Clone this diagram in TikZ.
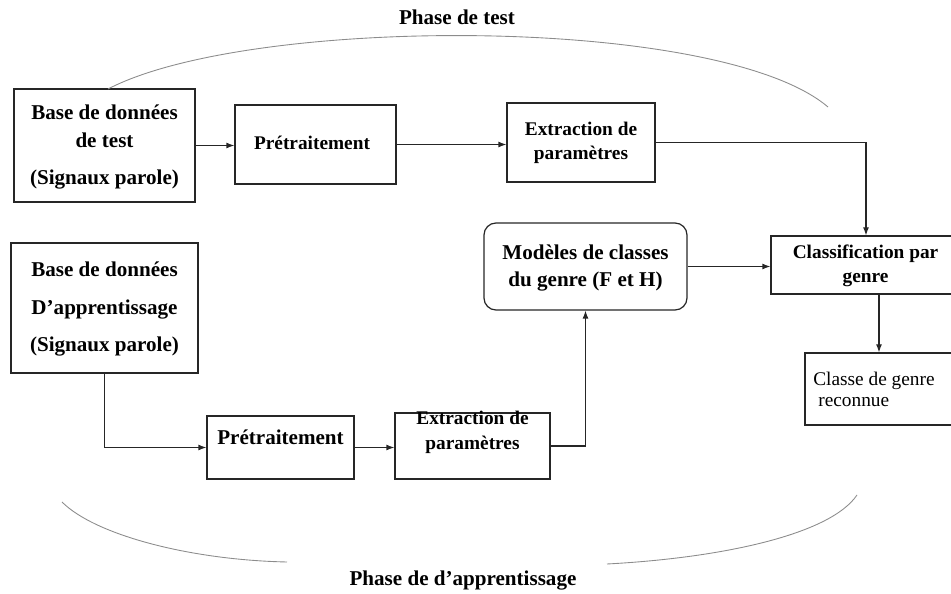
\documentclass[tikz,border=0pt]{standalone}
\usepackage{fontspec}
\setmainfont{Liberation Serif}
\usetikzlibrary{fit,arrows.meta}
\begin{document}
\begin{tikzpicture}[x=0.02cm,y=-0.02cm,
  box/.style={draw=black!85,line width=0.7pt,inner sep=0pt},
  rbox/.style={box,rounded corners=0.24cm},
  arr/.style={draw=black!85,line width=0.7pt,-{Latex[length=1.6mm,width=1.2mm]}},
  ln/.style={draw=black!85,line width=0.7pt},
  arc/.style={draw=black!45,line width=0.5pt},
  tb/.style={anchor=base,inner sep=0pt,font=\fontsize{12}{14}\selectfont\bfseries},
  ts/.style={anchor=base,inner sep=0pt,font=\fontsize{11}{13}\selectfont\bfseries},
  tr/.style={anchor=base west,inner sep=0pt,font=\fontsize{11}{13}\selectfont}]
\useasboundingbox (0,0) rectangle (951,594);

% boxes
\node[box,fit={(14,89) (195,202)}] (b1) {};
\node[box,fit={(235,105) (396,184)}] (p1) {};
\node[box,fit={(507,103) (655,182)}] (e1) {};
\node[rbox,fit={(484,223) (687,310)}] (m) {};
\node[box,fit={(771,236) (961,294)}] (cl) {};
\node[box,fit={(805,353) (953,425)}] (cls) {};
\node[box,fit={(11,243) (198,373)}] (b2) {};
\node[box,fit={(207,416) (354,479)}] (p2) {};
\node[box,fit={(395,413) (550,479)}] (e2) {};

% texts
\node[tb] (b1a) at (104.5,120) {Base de données};
\node[tb] (b1b) at (104.5,148) {de test};
\node[tb] (b1c) at (104.5,185) {(Signaux parole)};
\node[ts] (p1a) at (312,150) {Prétraitement};
\node[ts] (e1a) at (581,136) {Extraction de};
\node[ts] (e1b) at (581,160) {paramètres};
\node[tb] (ma) at (585.5,260) {Modèles de classes};
\node[tb] (mb) at (585.5,287) {du genre (F et H)};
\node[ts] (cla) at (865.5,259) {Classification par};
\node[ts] (clb) at (865.5,283) {genre};
\node[tr] (clsa) at (813,386) {Classe de genre};
\node[tr] (clsb) at (818,407) {reconnue};
\node[tb] (b2a) at (104.5,277) {Base de données};
\node[tb] (b2b) at (104.5,315) {D’apprentissage};
\node[tb] (b2c) at (104.5,352) {(Signaux parole)};
\node[tb] (p2a) at (280.5,445) {Prétraitement};
\node[ts] (e2a) at (472.5,425) {Extraction de};
\node[ts] (e2b) at (472.5,450) {paramètres};
\node[tb] (ph1) at (457,25) {Phase de test};
\node[tb] (ph2) at (463,586) {Phase de d’apprentissage};

% connectors
\draw[arr] (b1.east) -- (b1.east -| p1.west);
\draw[arr] (p1.east) -- (p1.east -| e1.west);
\draw[arr] (e1.east) -| (cl.north);
\draw[arr] (m.east) -- (m.east -| cl.west);
\draw[arr] (cls.north |- cl.south) -- (cls.north);
\draw[arr] (b2.south) |- (p2.west);
\draw[arr] (p2.east) -- (p2.east -| e2.west);
\draw[arr] (e2.east) -| (m.south);

% phase arcs
\draw[arc] (108,89) .. controls (250,15) and (720,15) .. (828,107);
\draw[arc] (62,502) .. controls (95,535) and (190,560) .. (287,562);
\draw[arc] (607,564) .. controls (720,558) and (830,535) .. (857,495);
\end{tikzpicture}
\end{document}
